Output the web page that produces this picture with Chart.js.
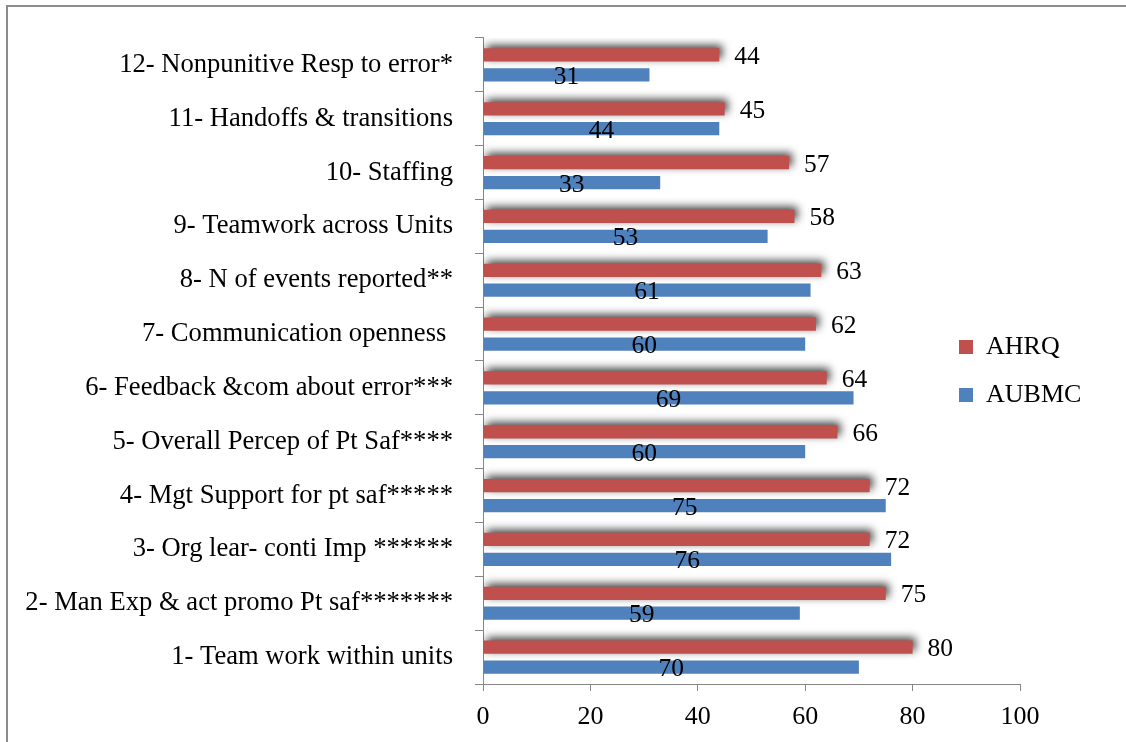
<!DOCTYPE html>
<html>
<head>
<meta charset="utf-8">
<title>AHRQ vs AUBMC</title>
<script src="https://cdn.jsdelivr.net/npm/chart.js@4.4.1/dist/chart.umd.min.js"></script>
<style>
  html, body { margin: 0; padding: 0; background: #fff; }
  #wrap { position: relative; width: 1126px; height: 742px; overflow: hidden; }
  #marco { position: absolute; left: 6px; top: 5px; right: -4px; bottom: -4px;
           border-top: 2px solid #8c8c8c; border-left: 2px solid #8c8c8c; }
  #grafico { position: absolute; left: 0; top: 0; }
</style>
</head>
<body>
<div id="wrap">
  <div id="marco"></div>
  <canvas id="grafico" width="1126" height="742"></canvas>
</div>
<script>
// datos (de arriba hacia abajo, como en el original)
const categorias = [
  '12- Nonpunitive Resp to error*',
  '11- Handoffs & transitions',
  '10- Staffing',
  '9- Teamwork across Units',
  '8- N of events reported**',
  '7- Communication openness ',
  '6- Feedback &com about error***',
  '5- Overall Percep of Pt Saf****',
  '4- Mgt Support for pt saf*****',
  '3- Org lear- conti Imp ******',
  '2- Man Exp & act promo Pt saf*******',
  '1- Team work within units'
];
const valoresAHRQ  = [44, 45, 57, 58, 63, 62, 64, 66, 72, 72, 75, 80];
const valoresAUBMC = [31, 44, 33, 53, 61, 60, 69, 60, 75, 76, 59, 70];
const ejeXMin = 0;
const ejeXMax = 100;
const ejeXPaso = 20;

const colores = {
  ahrq: '#C0504D',
  aubmc: '#4F81BD',
  eje: '#868686',
  texto: '#000000'
};
const fuente = "'Liberation Serif', 'Times New Roman', serif";

Chart.defaults.font.family = fuente;
Chart.defaults.font.size = 26;
Chart.defaults.color = colores.texto;

// sombra de la serie AHRQ
const sombraPlugin = {
  id: 'sombra',
  beforeDatasetDraw(chart, args) {
    if (args.index !== 0) return;
    const ctx = chart.ctx;
    ctx.save();
    ctx.shadowColor = 'rgba(0, 0, 0, 0.75)';
    ctx.shadowBlur = 9;
    ctx.shadowOffsetX = 3;
    ctx.shadowOffsetY = -3;
  },
  afterDatasetDraw(chart, args) {
    if (args.index !== 0) return;
    chart.ctx.restore();
  }
};

// etiquetas de valores
const etiquetasPlugin = {
  id: 'etiquetas',
  afterDatasetsDraw(chart) {
    const ctx = chart.ctx;
    ctx.save();
    ctx.font = '25.5px ' + fuente;
    ctx.fillStyle = colores.texto;
    ctx.textBaseline = 'alphabetic';
    chart.data.datasets.forEach((ds, i) => {
      const meta = chart.getDatasetMeta(i);
      meta.data.forEach((barra, j) => {
        const txt = String(ds.data[j]);
        if (i === 0) {
          ctx.textAlign = 'left';
          ctx.fillText(txt, barra.x + 15, barra.y + 9);
        } else {
          ctx.textAlign = 'center';
          ctx.fillText(txt, (barra.x + barra.base) / 2, barra.y + 9);
        }
      });
    });
    ctx.restore();
  }
};

// mover la leyenda encima del area del grafico (como en Excel)
const leyendaPlugin = {
  id: 'posLeyenda',
  afterLayout(chart) {
    const lg = chart.legend;
    if (!lg) return;
    lg.left = 937;
    lg.right = 1126;
    lg.width = 189;
    lg.top = 0;
    lg.bottom = 742;
    lg.height = 742;
  }
};

const ctx = document.getElementById('grafico').getContext('2d');
const grafico = new Chart(ctx, {
  type: 'bar',
  data: {
    labels: categorias,
    datasets: [
      {
        label: 'AHRQ',
        data: valoresAHRQ,
        backgroundColor: colores.ahrq,
        categoryPercentage: 0.74,
        barPercentage: 0.665
      },
      {
        label: 'AUBMC',
        data: valoresAUBMC,
        backgroundColor: colores.aubmc,
        categoryPercentage: 0.74,
        barPercentage: 0.665
      }
    ]
  },
  options: {
    indexAxis: 'y',
    responsive: false,
    animation: false,
    layout: {
      padding: { top: 36, bottom: 0, left: 0, right: 6 }
    },
    scales: {
      x: {
        min: ejeXMin,
        max: ejeXMax,
        afterFit(scale) { scale.height = 58; },
        ticks: { stepSize: ejeXPaso, padding: 11, color: colores.texto, font: { size: 26 } },
        grid: { drawOnChartArea: false, tickLength: 7, color: colores.eje },
        border: { color: colores.eje, width: 1 }
      },
      y: {
        afterFit(scale) { scale.width = 483; },
        ticks: { padding: 22, color: colores.texto, font: { size: 26.6 } },
        grid: { drawOnChartArea: false, tickLength: 8, color: colores.eje },
        border: { color: colores.eje, width: 1 }
      }
    },
    plugins: {
      legend: {
        position: 'right',
        maxWidth: 100,
        labels: {
          boxWidth: 14,
          boxHeight: 14,
          padding: 22,
          color: colores.texto,
          font: { size: 26 }
        }
      },
      tooltip: { enabled: false }
    }
  },
  plugins: [sombraPlugin, etiquetasPlugin, leyendaPlugin]
});
</script>
</body>
</html>
